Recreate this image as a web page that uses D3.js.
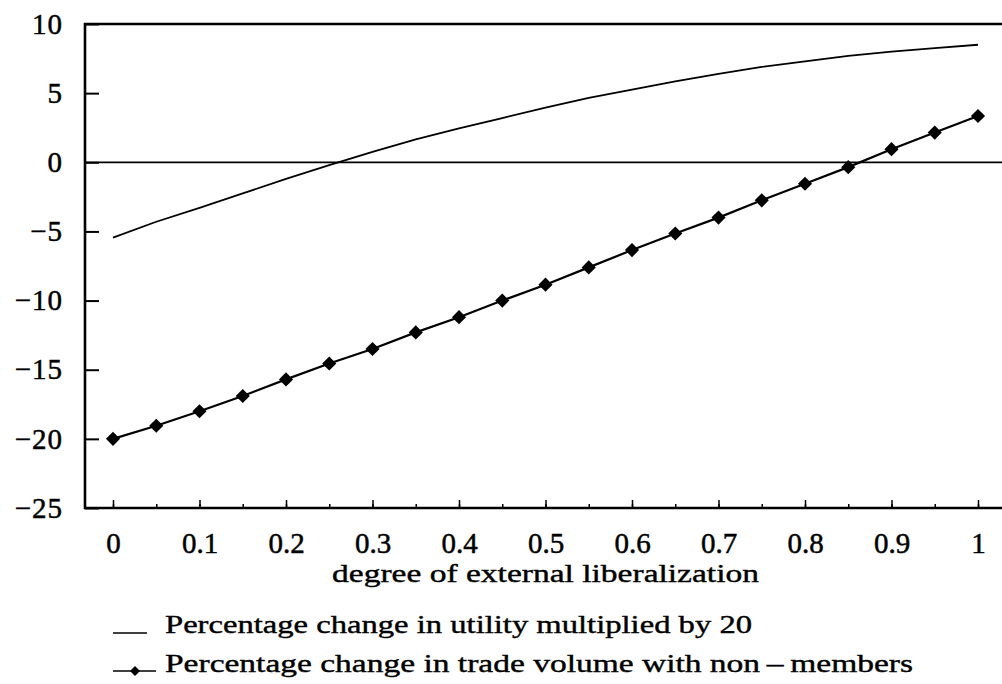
<!DOCTYPE html>
<html>
<head>
<meta charset="utf-8">
<script src="https://cdn.jsdelivr.net/npm/d3@7/dist/d3.min.js"></script>
<style>
  body { margin: 0; background: #fff; }
  svg { display: block; }
  text { fill: #000; }
</style>
</head>
<body>
<div id="chart"></div>
<script>
'use strict'

// degree of external liberalization (x), steps of 0.05
var liberalization = [0, 0.05, 0.1, 0.15, 0.2, 0.25, 0.3, 0.35, 0.4, 0.45, 0.5,
  0.55, 0.6, 0.65, 0.7, 0.75, 0.8, 0.85, 0.9, 0.95, 1];

// percentage change in utility multiplied by 20 (plain line)
var utilityX20 = [-5.45, -4.3, -3.3, -2.25, -1.2, -0.2, 0.75, 1.65, 2.45, 3.2, 3.95,
  4.65, 5.25, 5.85, 6.4, 6.9, 7.3, 7.7, 8.0, 8.25, 8.5];

// percentage change in trade volume with non-members (diamonds)
var tradeVolume = [-20, -19.05, -18, -16.9, -15.7, -14.55, -13.5, -12.3, -11.2, -10, -8.85,
  -7.6, -6.35, -5.15, -4.0, -2.75, -1.55, -0.35, 0.95, 2.15, 3.35];

var xTickValues = [0, 0.1, 0.2, 0.3, 0.4, 0.5, 0.6, 0.7, 0.8, 0.9, 1];
var yTickValues = [10, 5, 0, -5, -10, -15, -20, -25];

var xTitle = 'degree of external liberalization';
var legendLabels = ['Percentage change in utility multiplied by 20',
  'Percentage change in trade volume with non\u2009\u2013\u2009members'];

// DISPLAY SETTINGS
var WIDTH = 1002, HEIGHT = 684;
var AXIS_LEFT = 85, PLOT_RIGHT = 1002;
var TOP = 24, BOTTOM = 508;
var TICK_FONT = '"Liberation Serif", "Times New Roman", serif';
var LABEL_FONT = '"Liberation Serif", "Times New Roman", serif';

var x = d3.scaleLinear().domain([0, 1]).range([113, 978]);
var y = d3.scaleLinear().domain([-25, 10]).range([BOTTOM, TOP]);

var svg = d3.select('#chart').append('svg')
  .attr('width', WIDTH).attr('height', HEIGHT);

// frame: top, left, bottom
svg.append('path')
  .attr('d', 'M' + PLOT_RIGHT + ',' + TOP + 'H' + AXIS_LEFT + 'V' + BOTTOM + 'H' + PLOT_RIGHT)
  .attr('fill', 'none').attr('stroke', '#000').attr('stroke-width', 2.6);

// zero line
svg.append('line')
  .attr('x1', AXIS_LEFT).attr('x2', PLOT_RIGHT)
  .attr('y1', y(0)).attr('y2', y(0))
  .attr('stroke', '#000').attr('stroke-width', 1.7);

function fmt(v) {
  return v < 0 ? '\u2212' + Math.abs(v) : String(v);
}

// y axis, ticks pointing inward
var yAxis = svg.append('g')
  .attr('transform', 'translate(' + AXIS_LEFT + ',0)')
  .call(d3.axisLeft(y).tickValues(yTickValues).tickSizeInner(-14).tickSizeOuter(0)
    .tickPadding(22).tickFormat(fmt));
yAxis.select('.domain').remove();
yAxis.selectAll('line').attr('stroke-width', 2);
yAxis.selectAll('text')
  .attr('font-size', 29).attr('font-family', TICK_FONT)
  .attr('stroke', '#000').attr('stroke-width', 0.5)
  .style('letter-spacing', '1px');

// minor x ticks (every 0.05)
var xMinor = svg.append('g')
  .attr('transform', 'translate(0,' + BOTTOM + ')')
  .call(d3.axisBottom(x).tickValues(liberalization).tickSizeInner(-4).tickSizeOuter(0).tickFormat(''));
xMinor.select('.domain').remove();
xMinor.selectAll('line').attr('stroke-width', 1.5);

// major x ticks with labels
var xAxis = svg.append('g')
  .attr('transform', 'translate(0,' + BOTTOM + ')')
  .call(d3.axisBottom(x).tickValues(xTickValues).tickSizeInner(-8).tickSizeOuter(0)
    .tickPadding(24).tickFormat(function (d) { return String(d); }));
xAxis.select('.domain').remove();
xAxis.selectAll('line').attr('stroke-width', 1.5);
xAxis.selectAll('text')
  .attr('font-size', 29).attr('font-family', TICK_FONT)
  .attr('stroke', '#000').attr('stroke-width', 0.5);

// x axis title
svg.append('text')
  .attr('x', x(0.5)).attr('y', 582)
  .attr('text-anchor', 'middle')
  .attr('font-family', LABEL_FONT)
  .attr('font-size', 26)
  .attr('stroke', '#000').attr('stroke-width', 0.4)
  .attr('textLength', 427).attr('lengthAdjust', 'spacingAndGlyphs')
  .text(xTitle);

// utility line
var line = d3.line()
  .x(function (d, i) { return x(liberalization[i]); })
  .y(function (d) { return y(d); });

svg.append('path')
  .datum(utilityX20)
  .attr('d', line)
  .attr('fill', 'none').attr('stroke', '#000').attr('stroke-width', 1.8);

// trade volume line + diamonds
svg.append('path')
  .datum(tradeVolume)
  .attr('d', line)
  .attr('fill', 'none').attr('stroke', '#000').attr('stroke-width', 2.2);

var diamond = d3.symbol().type(d3.symbolSquare).size(100);
svg.selectAll('.marker')
  .data(tradeVolume)
  .enter()
  .append('path')
  .attr('class', 'marker')
  .attr('d', diamond)
  .attr('transform', function (d, i) {
    return 'translate(' + x(liberalization[i]) + ',' + y(d) + ') rotate(45)';
  })
  .attr('fill', '#000');

// LEGEND
var LEGEND_TEXT_X = 165;
var legendY = [633, 672];
var legendLengths = [587, 748];

svg.append('line')
  .attr('x1', 113).attr('x2', 147)
  .attr('y1', legendY[0]).attr('y2', legendY[0])
  .attr('stroke', '#000').attr('stroke-width', 1.5);

svg.append('line')
  .attr('x1', 113).attr('x2', 156)
  .attr('y1', legendY[1] - 1).attr('y2', legendY[1] - 1)
  .attr('stroke', '#000').attr('stroke-width', 1.5);
svg.append('path')
  .attr('d', d3.symbol().type(d3.symbolSquare).size(50))
  .attr('transform', 'translate(135,' + (legendY[1] - 1) + ') rotate(45)')
  .attr('fill', '#000');

svg.selectAll('.legend-label')
  .data(legendLabels)
  .enter()
  .append('text')
  .attr('class', 'legend-label')
  .attr('x', LEGEND_TEXT_X)
  .attr('y', function (d, i) { return legendY[i]; })
  .attr('font-family', LABEL_FONT)
  .attr('font-size', 26)
  .attr('stroke', '#000').attr('stroke-width', 0.4)
  .attr('textLength', function (d, i) { return legendLengths[i]; })
  .attr('lengthAdjust', 'spacingAndGlyphs')
  .text(function (d) { return d; });
</script>
</body>
</html>
